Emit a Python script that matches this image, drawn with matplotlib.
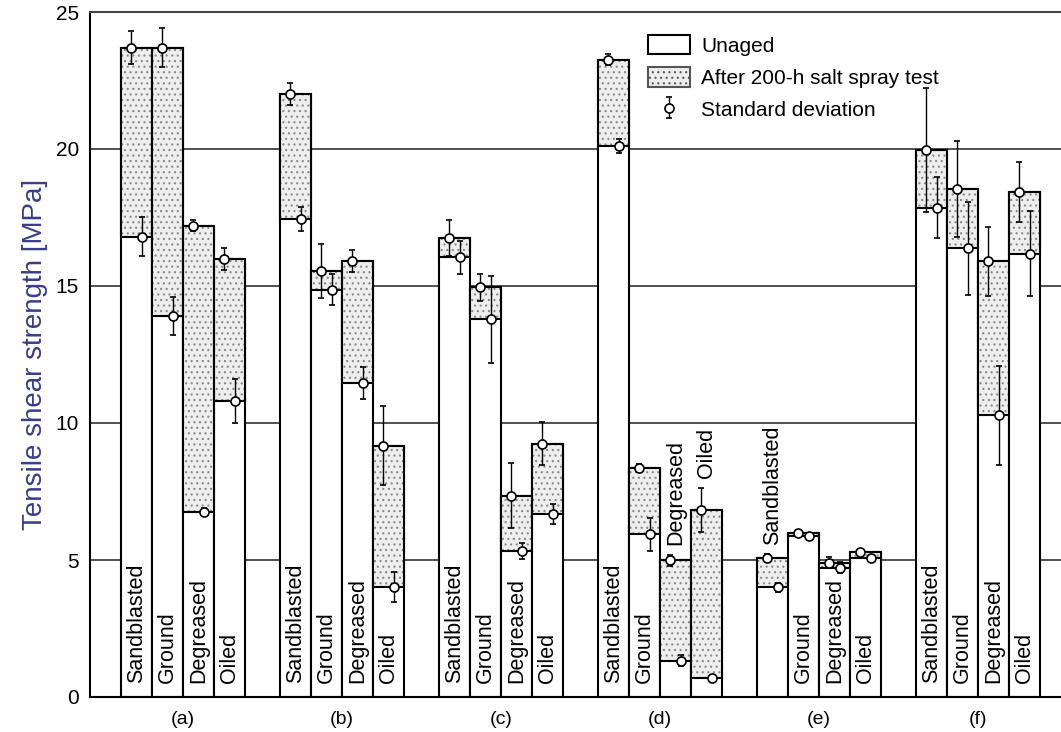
import numpy as np
import matplotlib
matplotlib.use('Agg')
import matplotlib.pyplot as plt
from matplotlib.patches import Patch

plt.rcParams['font.family'] = ['Liberation Sans', 'DejaVu Sans']
plt.rcParams['hatch.linewidth'] = 0.8

groups = ['(a)', '(b)', '(c)', '(d)', '(e)', '(f)']
treatments = ['Sandblasted', 'Ground', 'Degreased', 'Oiled']

# tensile shear strength [MPa], rows = groups, columns = treatments
unaged = np.array([
    [23.7, 23.7, 17.2, 16.0],
    [22.0, 15.55, 15.9, 9.17],
    [16.75, 14.95, 7.35, 9.25],
    [23.26, 8.37, 4.99, 6.83],
    [5.06, 5.98, 4.9, 5.28],
    [19.96, 18.53, 15.9, 18.43],
])
unaged_sd = np.array([
    [0.6, 0.7, 0.2, 0.4],
    [0.4, 1.0, 0.4, 1.45],
    [0.65, 0.5, 1.2, 0.8],
    [0.2, 0.15, 0.2, 0.8],
    [0.15, 0.1, 0.2, 0.12],
    [2.25, 1.75, 1.25, 1.1],
])
aged = np.array([
    [16.8, 13.9, 6.75, 10.8],
    [17.45, 14.87, 11.46, 4.02],
    [16.05, 13.78, 5.33, 6.68],
    [20.12, 5.94, 1.32, 0.68],
    [4.0, 5.87, 4.72, 5.07],
    [17.86, 16.38, 10.28, 16.17],
])
aged_sd = np.array([
    [0.7, 0.7, 0.15, 0.8],
    [0.45, 0.55, 0.6, 0.55],
    [0.6, 1.6, 0.3, 0.35],
    [0.25, 0.6, 0.2, 0.1],
    [0.15, 0.1, 0.2, 0.12],
    [1.1, 1.7, 1.8, 1.55],
])
# (group, treatment) whose label sits above the bar
label_above = [(3, 2), (3, 3), (4, 0)]

w = 0.195
stipple = '#eeeeee'

fig, ax = plt.subplots(figsize=(10.61, 7.32), dpi=100)
ax.set_position([90 / 1061, 1 - 697 / 732, 980 / 1061, 685 / 732])

gx = np.arange(len(groups))
err_style = dict(fmt='o', ms=6.5, mfc='white', mec='black', mew=1.2,
                 ecolor='black', elinewidth=1, capsize=2.5, zorder=5)
for i, name in enumerate(treatments):
    x = gx + (i - 1.5) * w
    diff = unaged[:, i] - aged[:, i]
    ax.bar(x, unaged[:, i], w, color='white', edgecolor='black', lw=1.5, zorder=2)
    ax.bar(x, diff, w, bottom=aged[:, i], color=stipple, edgecolor='#888888',
           hatch='...', lw=0, zorder=3)
    ax.bar(x, diff, w, bottom=aged[:, i], fill=False, edgecolor='black', lw=1.5, zorder=4)
    eu = ax.errorbar(x - 0.037, unaged[:, i], yerr=unaged_sd[:, i], **err_style)
    ax.errorbar(x + 0.037, aged[:, i], yerr=aged_sd[:, i], **err_style)

for g in range(len(groups)):
    for i, name in enumerate(treatments):
        x = g + (i - 1.5) * w
        if (g, i) in label_above:
            y = unaged[g, i] + unaged_sd[g, i] + 0.35
        else:
            y = 0.5
        ax.text(x, y, name, rotation=90, ha='center', va='bottom', fontsize=15.5, zorder=6)

ax.set_xlim((90 - 183) / 159, (1070 - 183) / 159)
ax.set_ylim(0, 25)
ax.set_xticks(gx)
ax.set_xticklabels(groups, fontsize=14)
ax.set_yticks([0, 5, 10, 15, 20, 25])
ax.tick_params(axis='x', length=0, pad=10)
ax.tick_params(axis='y', length=0, pad=8, labelsize=15)
ax.yaxis.grid(True, color='#333333', lw=1.2)
ax.set_axisbelow(True)
for s in ['left', 'top', 'bottom']:
    ax.spines[s].set_linewidth(1.5)
ax.spines['top'].set_color('#444444')
ax.spines['right'].set_visible(False)

ax.set_ylabel('Tensile shear strength [MPa]', fontsize=20, color='#3b3b8a')
ax.yaxis.set_label_coords(-0.043, 0.5)

handles = [Patch(facecolor='white', edgecolor='black', lw=1.5),
           Patch(facecolor=stipple, edgecolor='#555555', hatch='...', lw=1.5),
           eu]
ax.legend(handles, ['Unaged', 'After 200-h salt spray test', 'Standard deviation'],
          loc='upper left', bbox_to_anchor=(648 / 1061, 1 - 35 / 732),
          bbox_transform=fig.transFigure, frameon=False, fontsize=15,
          handlelength=2.0, handleheight=1.05, handletextpad=0.55,
          labelspacing=0.55, borderpad=0, borderaxespad=0)

fig.savefig('out.png', dpi=100)
